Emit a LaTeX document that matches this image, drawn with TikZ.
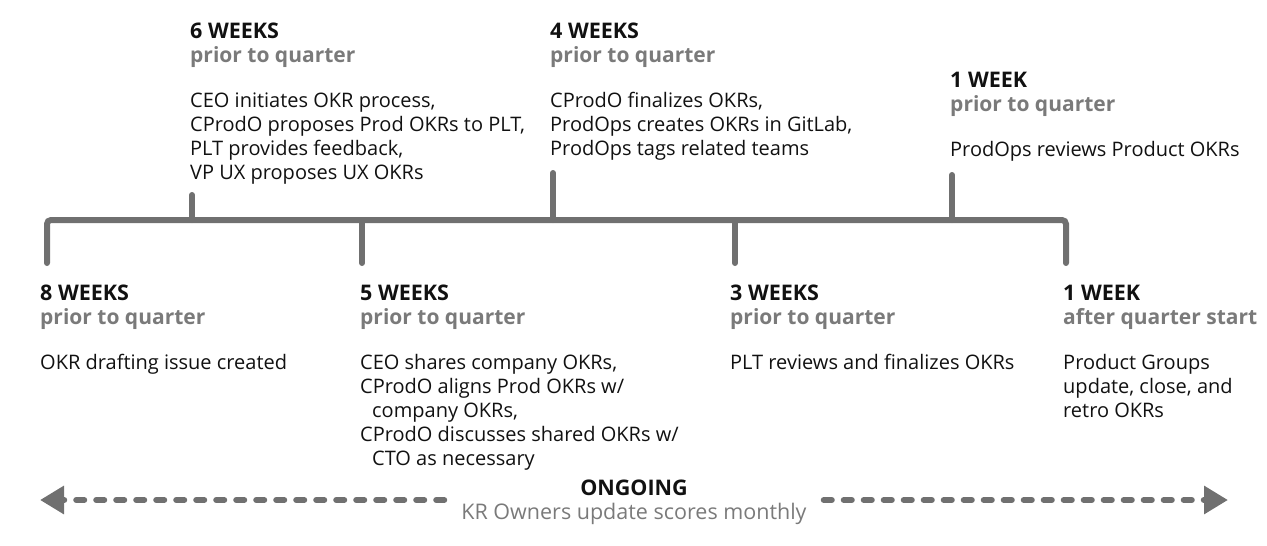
\documentclass[tikz,border=0pt]{standalone}
\usepackage{fontspec}
\setmainfont{Open Sans}
\usetikzlibrary{positioning, arrows.meta}
\definecolor{linegray}{HTML}{707070}
\definecolor{subgray}{HTML}{7A7A7A}
\definecolor{inkblack}{HTML}{111111}
\newcommand{\whenhead}[2]{{\fontsize{21.5}{24}\selectfont\bfseries #1}\\%
  {\fontsize{21}{24}\selectfont\bfseries\color{subgray}#2}\\[21pt]}

\begin{document}
\begin{tikzpicture}[
      x=1pt, y=-1pt,
      every node/.style={font=\fontsize{20}{24}\selectfont, text=inkblack, inner sep=0pt},
      event/.style={anchor=north west, align=left},
      tline/.style={draw=linegray, line width=6pt, line cap=round, rounded corners=4pt},
      ongo/.style={draw=linegray, line width=6pt, line cap=round, dash pattern=on 8pt off 12pt,
                   -{Triangle[length=24pt, width=27pt, line cap=butt]}},
    ]
    \useasboundingbox (0,0) rectangle (1267,546);

    % timeline
    \coordinate (tl) at (47,263);
    \coordinate (tr) at (1066,263);
    \draw[tline] (tl) -- (47,220) -- (1066,220) -- (tr);
    \draw[tline] (192,220) -- (192,195);
    \draw[tline] (362,220) -- (362,263);
    \draw[tline] (553,220) -- (553,173);
    \draw[tline] (735,220) -- (735,263);
    \draw[tline] (952,220) -- (952,175);

    % above the line
    \node[event] (w6) at (190,23)
      {\whenhead{6 WEEKS}{prior to quarter}%
       CEO initiates OKR process,\\%
       CProdO proposes Prod OKRs to PLT,\\%
       PLT provides feedback,\\%
       VP UX proposes UX OKRs};
    \node[event] (w4) at (550,23)
      {\whenhead{4 WEEKS}{prior to quarter}%
       CProdO finalizes OKRs,\\%
       ProdOps creates OKRs in GitLab,\\%
       ProdOps tags related teams};
    \node[event] (w1pre) at (950,72)
      {\whenhead{1 WEEK}{prior to quarter}%
       ProdOps reviews Product OKRs};

    % below the line
    \node[event] (w8) at (40,285)
      {\whenhead{8 WEEKS}{prior to quarter}%
       OKR drafting issue created};
    \node[event] (w5) at (360,285)
      {\whenhead{5 WEEKS}{prior to quarter}%
       CEO shares company OKRs,\\%
       CProdO aligns Prod OKRs w/\\%
       \hspace*{12pt}company OKRs,\\%
       CProdO discusses shared OKRs w/\\%
       \hspace*{12pt}CTO as necessary};
    \node[event] (w3) at (730,285)
      {\whenhead{3 WEEKS}{prior to quarter}%
       PLT reviews and finalizes OKRs};
    \node[event] (w1post) at (1063,285)
      {\whenhead{1 WEEK}{after quarter start}%
       Product Groups\\%
       update, close, and\\%
       retro OKRs};

    % ongoing
    \node[align=center, anchor=north] (ongoing) at (634,480)
      {{\fontsize{21.5}{24}\selectfont\bfseries ONGOING}\\%
       {\fontsize{21.5}{24}\selectfont\color{subgray}KR Owners update scores monthly}};
    \coordinate (lend) at (40,500);
    \coordinate (rend) at (1228,500);
    \draw[ongo] (ongoing.west |- lend) ++(-17,0) -- (lend);
    \draw[ongo] (ongoing.east |- rend) ++(17,0) -- (rend);
  \end{tikzpicture}
\end{document}
